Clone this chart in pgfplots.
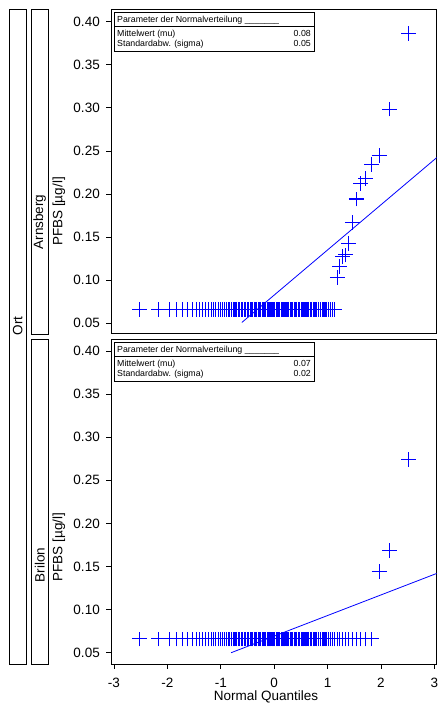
\documentclass[border=0pt]{standalone}
\usepackage{fontspec}
\setmainfont{Liberation Sans}
\usepackage{pgfplots}
\usepackage{pgfplotstable}
\pgfplotsset{compat=1.18}
\makeatletter
\pgfdeclareplotmark{bplus}{%
  \pgfsys@color@rgb@stroke{0}{0}{1}%
  \pgfpathmoveto{\pgfqpoint{-\pgfplotmarksize}{0pt}}%
  \pgfpathlineto{\pgfqpoint{\pgfplotmarksize}{0pt}}%
  \pgfpathmoveto{\pgfqpoint{0pt}{-\pgfplotmarksize}}%
  \pgfpathlineto{\pgfqpoint{0pt}{\pgfplotmarksize}}%
  \pgfusepathqstroke}
\makeatother
\pgfplotstableread{
x arn bri
-2.5180 0.066 0.066
-2.1625 0.066 0.066
-1.9650 0.066 0.066
-1.8234 0.066 0.066
-1.7110 0.066 0.066
-1.6170 0.066 0.066
-1.5353 0.066 0.066
-1.4628 0.066 0.066
-1.3970 0.066 0.066
-1.3370 0.066 0.066
-1.2816 0.066 0.066
-1.2297 0.066 0.066
-1.1808 0.066 0.066
-1.1348 0.066 0.066
-1.0910 0.066 0.066
-1.0492 0.066 0.066
-1.0091 0.066 0.066
-0.9706 0.066 0.066
-0.9335 0.066 0.066
-0.8976 0.066 0.066
-0.8629 0.066 0.066
-0.8290 0.066 0.066
-0.7963 0.066 0.066
-0.7645 0.066 0.066
-0.7330 0.066 0.066
-0.7025 0.066 0.066
-0.6735 0.066 0.066
-0.6436 0.066 0.066
-0.6146 0.066 0.066
-0.5874 0.066 0.066
-0.5589 0.066 0.066
-0.5312 0.066 0.066
-0.5042 0.066 0.066
-0.4783 0.066 0.066
-0.4515 0.066 0.066
-0.4254 0.066 0.066
-0.3997 0.066 0.066
-0.3750 0.066 0.066
-0.3492 0.066 0.066
-0.3241 0.066 0.066
-0.2993 0.066 0.066
-0.2753 0.066 0.066
-0.2506 0.066 0.066
-0.2261 0.066 0.066
-0.2019 0.066 0.066
-0.1786 0.066 0.066
-0.1543 0.066 0.066
-0.1302 0.066 0.066
-0.1064 0.066 0.066
-0.0826 0.066 0.066
-0.0590 0.066 0.066
-0.0354 0.066 0.066
-0.0118 0.066 0.066
0.0118 0.066 0.066
0.0354 0.066 0.066
0.0590 0.066 0.066
0.0826 0.066 0.066
0.1064 0.066 0.066
0.1302 0.066 0.066
0.1543 0.066 0.066
0.1786 0.066 0.066
0.2019 0.066 0.066
0.2261 0.066 0.066
0.2506 0.066 0.066
0.2753 0.066 0.066
0.2993 0.066 0.066
0.3241 0.066 0.066
0.3492 0.066 0.066
0.3750 0.066 0.066
0.3997 0.066 0.066
0.4254 0.066 0.066
0.4515 0.066 0.066
0.4783 0.066 0.066
0.5042 0.066 0.066
0.5312 0.066 0.066
0.5589 0.066 0.066
0.5874 0.066 0.066
0.6146 0.066 0.066
0.6436 0.066 0.066
0.6735 0.066 0.066
0.7025 0.066 0.066
0.7330 0.066 0.066
0.7645 0.066 0.066
0.7963 0.066 0.066
0.8290 0.066 0.066
0.8629 0.066 0.066
0.8976 0.066 0.066
0.9335 0.066 0.066
0.9706 0.066 0.066
1.0091 0.066 0.066
1.0492 0.066 0.066
1.0910 0.066 0.066
1.1348 0.066 0.066
1.1808 0.103 0.066
1.2297 0.116 0.066
1.2816 0.127 0.066
1.3370 0.129 0.066
1.3970 0.142 0.066
1.4628 0.167 0.066
1.5353 0.194 0.066
1.6170 0.212 0.066
1.7110 0.218 0.066
1.8234 0.234 0.066
1.9650 0.245 0.144
2.1625 0.2985 0.169
2.5180 0.3865 0.274
}\qqdata
\pgfplotsset{
  qq/.style={
    scale only axis, width=325.2pt, anchor=south west,
    xmin=-3.05, xmax=3.04,
    ytick={0.05,0.10,0.15,0.20,0.25,0.30,0.35,0.40},
    yticklabel style={/pgf/number format/fixed, /pgf/number format/fixed zerofill, /pgf/number format/precision=2, xshift=-3pt},
    xticklabel style={yshift=-6pt},
    xtick pos=left, ytick pos=left,
    tick align=outside, major tick length=5pt,
    every tick/.style={black, line width=0.6pt},
    axis line style={line width=0.6pt},
    /pgf/number format/assume math mode=true,
    tick label style={font=\fontsize{13.5}{15}\selectfont},
  },
  qqpts/.style={only marks, mark=bplus, mark size=7.4pt, color=blue, mark options={line width=1.1pt}},
  qqline/.style={color=blue, line width=0.8pt, no marks},
}
\newcommand{\paramtable}[3]{%
  \begin{scope}[yshift=-#1pt]
  \draw[line width=0.7pt] (114,656.3) rectangle (314.3,695.7);
  \draw[line width=0.7pt] (114,682) -- (314.3,682);
  \node[anchor=base west, inner sep=0pt, font=\fontsize{8.8}{10}\selectfont] at (117,685.5) {Parameter der Normalverteilung \_\_\_\_\_\_\_};
  \node[anchor=base west, inner sep=0pt, font=\fontsize{8.8}{10}\selectfont] at (117,671.5) {Mittelwert (mu)};
  \node[anchor=base west, inner sep=0pt, font=\fontsize{8.8}{10}\selectfont] at (117,661.5) {Standardabw. (sigma)};
  \node[anchor=base east, inner sep=0pt, font=\fontsize{8.8}{10}\selectfont] at (311,671.5) {#2};
  \node[anchor=base east, inner sep=0pt, font=\fontsize{8.8}{10}\selectfont] at (311,661.5) {#3};
  \end{scope}}
\begin{document}
\begin{tikzpicture}[x=1pt,y=1pt]
\useasboundingbox (0,0) rectangle (438,708);
% top panel: Arnsberg
\begin{axis}[qq, at={(111.3pt,374.5pt)}, height=324.5pt,
  ymin=0.0377, ymax=0.4148, xtick=\empty]
\addplot[qqpts] table[x=x,y=arn]{\qqdata};
\addplot[qqline] coordinates {(-0.606,0.0505) (3.05,0.2424)};
\end{axis}
% bottom panel: Brilon
\begin{axis}[qq, at={(111.3pt,44pt)}, height=325pt,
  ymin=0.0369, ymax=0.4139, xtick={-3,-2,-1,0,1,2,3}]
\addplot[qqpts] table[x=x,y=bri]{\qqdata};
\addplot[qqline] coordinates {(-0.806,0.05) (3.05,0.1421)};
\end{axis}
\paramtable{0}{0.08}{0.05}
\paramtable{330}{0.07}{0.02}
% strips
\draw[line width=0.7pt] (9,44) rectangle (26.5,699);
\draw[line width=0.7pt] (31,374) rectangle (48.5,699);
\draw[line width=0.7pt] (31,44) rectangle (48.5,369);
\node[rotate=90, font=\fontsize{13.5}{15}\selectfont] at (17.7,382) {Ort};
\node[rotate=90, font=\fontsize{13.5}{15}\selectfont] at (39.7,486) {Arnsberg};
\node[rotate=90, font=\fontsize{13.5}{15}\selectfont] at (39.7,143) {Brilon};
\node[rotate=90, font=\fontsize{13.5}{15}\selectfont] at (59,496.5) {PFBS [µg/l]};
\node[rotate=90, font=\fontsize{13.5}{15}\selectfont] at (59,161) {PFBS [µg/l]};
\node[font=\fontsize{13.5}{15}\selectfont] at (266,11) {Normal Quantiles};
\end{tikzpicture}
\end{document}
